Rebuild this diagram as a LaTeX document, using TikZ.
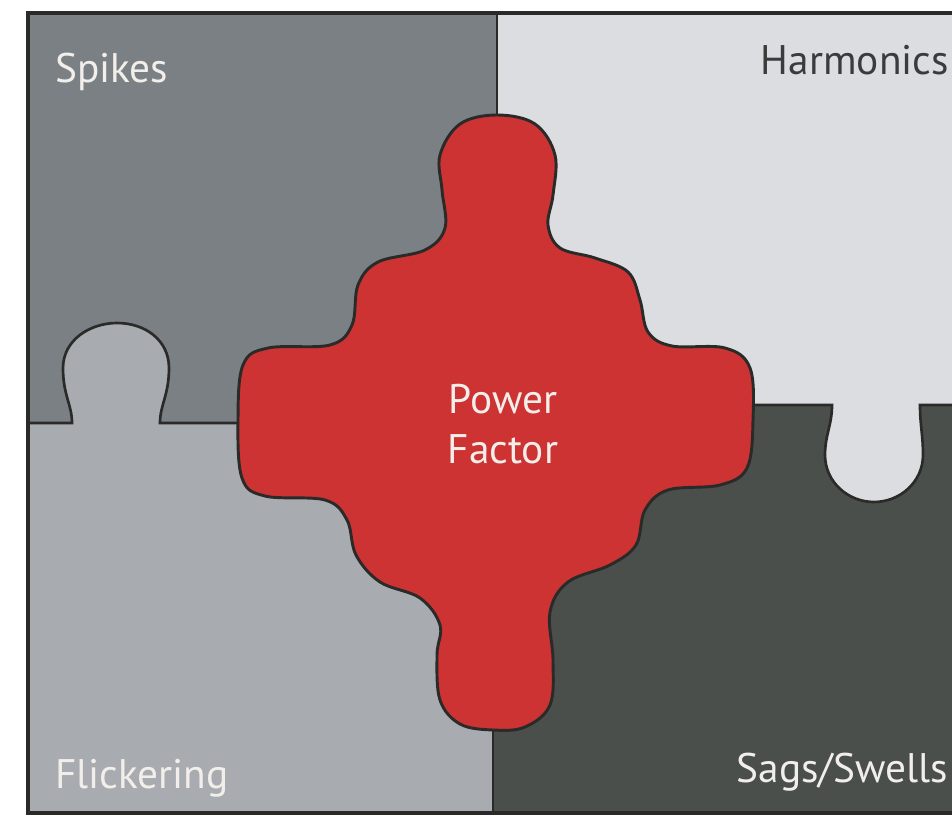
\documentclass[tikz,border=0pt]{standalone}
\usepackage{fontspec}
\setmainfont{PT Sans}
\definecolor{cSpikes}{HTML}{7B8085}
\definecolor{cHarm}{HTML}{DCDDE1}
\definecolor{cFlick}{HTML}{A8ABAF}
\definecolor{cSags}{HTML}{4A4F4C}
\definecolor{cRed}{HTML}{CD3333}
\definecolor{cLine}{HTML}{2A2B29}
\definecolor{cLight}{HTML}{F2EEEA}
\definecolor{cDark}{HTML}{3A3B3A}
\begin{document}
\begin{tikzpicture}[x=0.75pt,y=-0.75pt,
  divider/.style={draw=cLine,line width=2pt},
  frameline/.style={draw=cLine,line width=2.6pt},
  piece/.style={fill=cRed,draw=cLine,line width=2.2pt},
  lbl/.style={font=\fontsize{31}{37.5}\selectfont,inner sep=0pt},
]
\useasboundingbox (0,0) rectangle (952,816);
\clip (0,0) rectangle (952,816);
\fill[white] (0,0) rectangle (952,816);
% panels
\fill[cSpikes] (28,13) rectangle (497,423);
\fill[cHarm] (497,13) rectangle (960,405);
\fill[cFlick] (28,423) rectangle (495,813);
\fill[cSags] (493,405) rectangle (960,813);
% left tab (Flickering into Spikes)
\fill[cFlick] (72,424) .. controls (72,405) and (63,395) .. (63,368)
  .. controls (63,340) and (90,323) .. (117,323)
  .. controls (145,323) and (169,340) .. (169,368)
  .. controls (169,395) and (160,405) .. (160,424) -- cycle;
\draw[divider] (28,423) -- (72,423) .. controls (72,405) and (63,395) .. (63,368)
  .. controls (63,340) and (90,323) .. (117,323)
  .. controls (145,323) and (169,340) .. (169,368)
  .. controls (169,395) and (160,405) .. (160,423) -- (250,423);
% right tab (Harmonics into Sags)
\fill[cHarm] (832,404) .. controls (832,425) and (825,435) .. (825,455)
  .. controls (825,482) and (848,502) .. (874,502)
  .. controls (900,502) and (923,482) .. (923,455)
  .. controls (923,435) and (920,425) .. (920,404) -- cycle;
\draw[divider] (740,405) -- (832,405) .. controls (832,425) and (825,435) .. (825,455)
  .. controls (825,482) and (848,502) .. (874,502)
  .. controls (900,502) and (923,482) .. (923,455)
  .. controls (923,435) and (920,425) .. (920,405) -- (960,405);
% vertical dividers
\draw[divider] (497,13) -- (497,140);
\draw[divider] (493,700) -- (493,813);
% central piece
\draw[piece] plot[smooth cycle, tension=0.6] coordinates {
(497,115) (535,124) (555,155) (553,195) (548,225) (560,248) (595,258)
(628,272) (640,300) (648,332) (672,346) (725,348) (750,368) (753,420)
(747,468) (720,485) (668,490) (645,510) (636,545) (610,565) (568,582)
(550,612) (553,660) (550,705) (525,727) (493,730) (460,724) (440,700)
(437,655) (440,625) (420,598) (380,582) (356,555) (347,520) (325,500)
(265,496) (242,478) (238,420) (243,365) (268,348) (330,345) (352,325)
(358,285) (378,262) (425,250) (445,228) (442,190) (440,155) (460,124)};
% frame
\draw[frameline] (960,13) -- (28,13) -- (28,813) -- (960,813);
% labels
\node[lbl,text=cLight,anchor=base west] (spikes) at (55,83) {Spikes};
\node[lbl,text=cDark,anchor=base east] (harmonics) at (949,75) {Harmonics};
\node[lbl,text=cLight,anchor=base west] (flicker) at (55,788) {Flickering};
\node[lbl,text=cLight,anchor=base east] (sags) at (948,782) {Sags/Swells};
\node[lbl,text=cLight,align=center] (pf) at (503,424) {Power\\Factor};
\end{tikzpicture}
\end{document}
